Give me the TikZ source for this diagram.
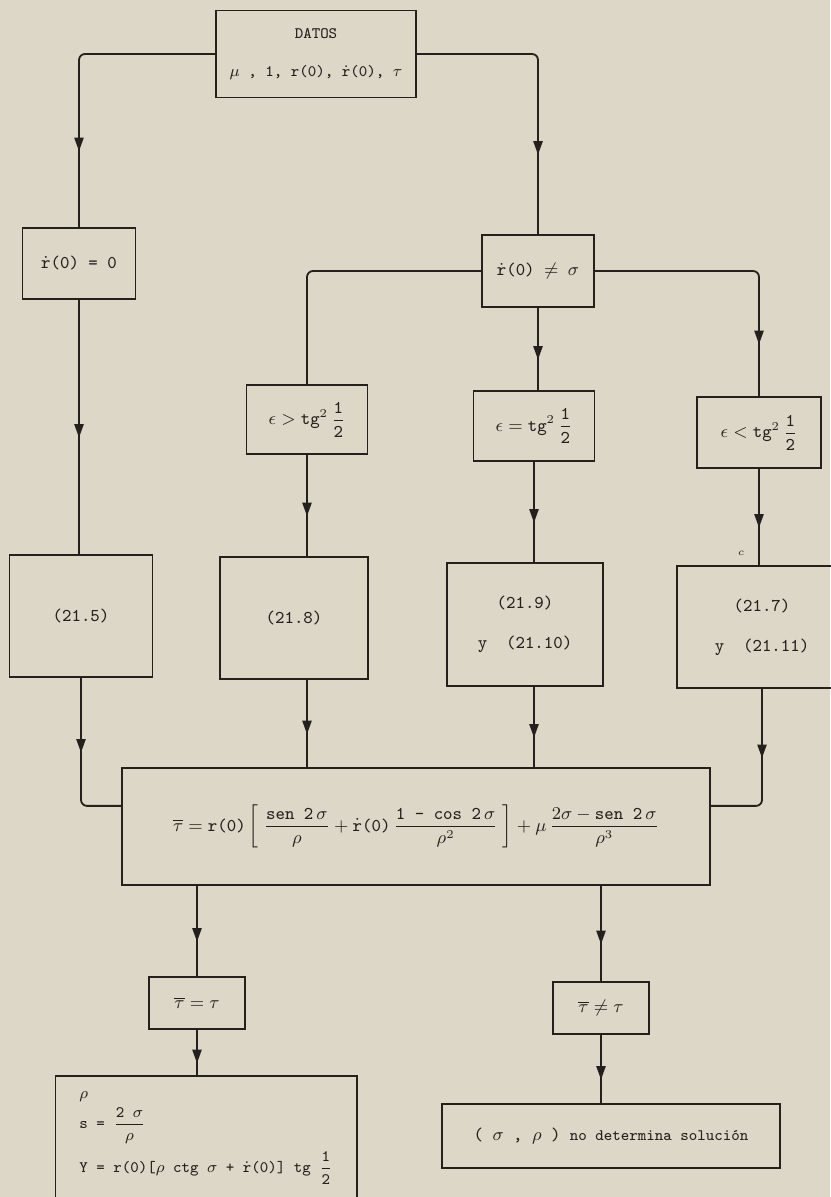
\documentclass[tikz,border=0pt]{standalone}
\usepackage{amsmath}
\usetikzlibrary{shapes.geometric}
\definecolor{paper}{RGB}{221,215,199}
\definecolor{ink}{RGB}{35,32,30}
\begin{document}
\begin{tikzpicture}[x=0.5pt, y=-0.5pt,
  box/.style={draw=ink, line width=.9pt, inner sep=2pt, align=center, font=\ttfamily\small, text=ink},
  arr/.style={isosceles triangle, isosceles triangle apex angle=40, shape border rotate=-90, fill=ink, inner sep=1.4pt},
  line/.style={draw=ink, line width=.9pt}]
\useasboundingbox[fill=paper] (0,0) rectangle (830,1197);
% data and first split
\node[box, minimum width=100pt, minimum height=43.5pt] (dat) at (316,54) {{\footnotesize DATOS}\\[8pt]{\footnotesize$\mu$ , 1, r(0), $\dot{\texttt{r}}$(0), $\tau$}};
\node[box, minimum width=56.5pt, minimum height=35.5pt] (rz) at (79,263.5) {$\dot{\texttt{r}}$(0) = 0};
\node[box, minimum width=56pt, minimum height=36pt] (rn) at (538,271) {$\dot{\texttt{r}}$(0) $\neq$ $\sigma$};
% cases on epsilon
\node[box, minimum width=60.5pt, minimum height=34.5pt] (eg) at (307,419.5) {$\epsilon > \texttt{tg}^{2}\,\dfrac{\texttt{1}}{\texttt{2}}$};
\node[box, minimum width=60.5pt, minimum height=35pt] (ee) at (534,426) {$\epsilon = \texttt{tg}^{2}\,\dfrac{\texttt{1}}{\texttt{2}}$};
\node[box, minimum width=62pt, minimum height=35.5pt] (el) at (759,432.5) {$\epsilon < \texttt{tg}^{2}\,\dfrac{\texttt{1}}{\texttt{2}}$};
% equations
\node[box, minimum width=71.5pt, minimum height=61pt] (e5) at (81,616) {(21.5)};
\node[box, minimum width=74pt, minimum height=61pt] (e8) at (294,618) {(21.8)};
\node[box, minimum width=78pt, minimum height=61.5pt] (e9) at (525,624.5) {(21.9)\\[9pt]y\ \ (21.10)};
\node[box, minimum width=85pt, minimum height=61pt] (e7) at (762,627) {(21.7)\\[9pt]y\ \ (21.11)};
\node[font=\tiny, text=ink] (cc) at (741,553) {$c$};
\node[box, minimum width=294pt, minimum height=58.5pt] (big) at (416,826.5) {$\overline{\tau} = \texttt{r(0)}\left[\;\dfrac{\texttt{sen 2}\,\sigma}{\rho} + \dot{\texttt{r}}\texttt{(0)}\,\dfrac{\texttt{1 - cos 2}\,\sigma}{\rho^{2}}\;\right] + \mu\,\dfrac{2\sigma - \texttt{sen 2}\,\sigma}{\rho^{3}}$};
% test on tau
\node[box, minimum width=48pt, minimum height=26pt] (teq) at (197,1003) {$\overline{\tau} = \tau$};
\node[box, minimum width=48pt, minimum height=26pt] (tne) at (601,1008) {$\overline{\tau} \neq \tau$};
\node[box, align=left, font=\ttfamily\footnotesize, inner xsep=12pt, minimum width=147pt, minimum height=62pt] (sol) at (206,1138) {$\rho$\\[2pt]s = $\dfrac{\texttt{2}\ \sigma}{\rho}$\\[3pt]Y = r(0)[$\rho$ ctg $\sigma$ + $\dot{\texttt{r}}$(0)] tg $\dfrac{\texttt{1}}{\texttt{2}}$};
\node[box, minimum width=169pt, minimum height=32pt] (nos) at (611,1136) {( $\sigma$ , $\rho$ ) {\footnotesize no determina solución}};
% connectors
\draw[line, rounded corners=3pt] (dat.west) -| (rz.north);
\path (dat.west -| rz.north) -- node[arr]{} (rz.north);
\draw[line, rounded corners=3pt] (dat.east) -| (rn.north);
\path (dat.east -| rn.north) -- node[arr]{} (rn.north);
\draw[line] (rz.south) -- node[arr]{} (rz.south |- e5.north);
\draw[line, rounded corners=3pt] (rn.west) -| (eg.north);
\draw[line] (rn.south) -- node[arr]{} (rn.south |- ee.north);
\draw[line, rounded corners=3pt] (rn.east) -| (el.north);
\path (rn.east -| el.north) -- node[arr]{} (el.north);
\draw[line] (eg.south) -- node[arr]{} (eg.south |- e8.north);
\draw[line] (ee.south) -- node[arr]{} (ee.south |- e9.north);
\draw[line] (el.south) -- node[arr]{} (el.south |- e7.north);
\draw[line, rounded corners=3pt] (e5.south) |- (big.176);
\path (e5.south) -- node[arr]{} (e5.south |- big.176);
\draw[line] (eg.south |- e8.south) -- node[arr]{} (eg.south |- big.north);
\draw[line] (ee.south |- e9.south) -- node[arr]{} (ee.south |- big.north);
\draw[line, rounded corners=3pt] (e7.south) |- (big.4);
\path (e7.south) -- node[arr]{} (e7.south |- big.4);
\draw[line] (teq.north |- big.south) -- node[arr]{} (teq.north);
\draw[line] (tne.north |- big.south) -- node[arr]{} (tne.north);
\draw[line] (teq.south) -- node[arr]{} (teq.south |- sol.north);
\draw[line] (tne.south) -- node[arr]{} (tne.south |- nos.north);
\end{tikzpicture}
\end{document}
